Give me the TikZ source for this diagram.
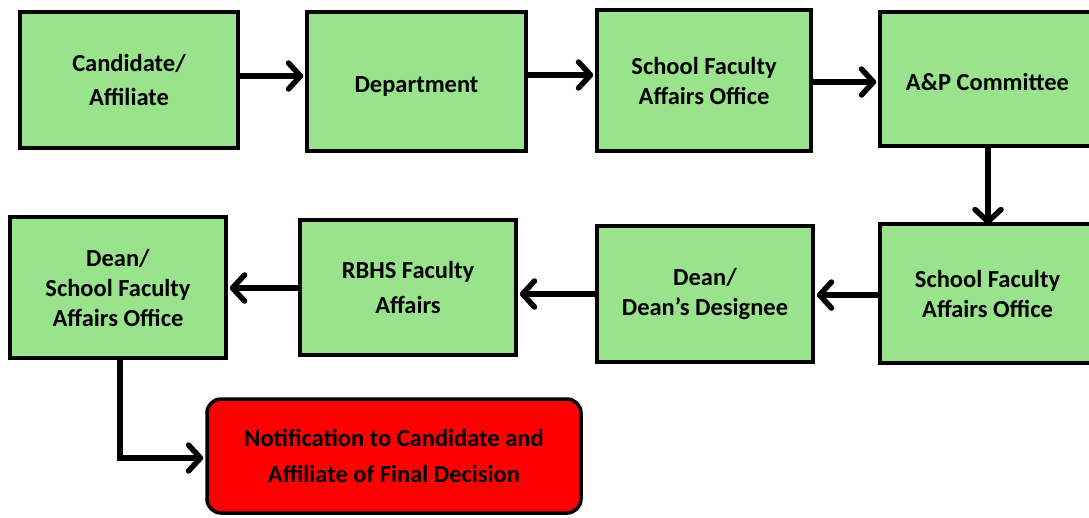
\documentclass[tikz,border=0pt]{standalone}
\usepackage{fontspec}
\setmainfont{Carlito}
\usetikzlibrary{arrows.meta}
\definecolor{boxgreen}{RGB}{153,227,140}
\definecolor{boxred}{RGB}{255,0,0}
\tikzset{
  stepbox/.style={draw=black, line width=3.5pt, fill=boxgreen, align=center,
    inner sep=0pt, font=\fontsize{24.5}{30}\selectfont\bfseries},
  finalbox/.style={stepbox, fill=boxred, rounded corners=14pt},
  arr/.style={line width=5.5pt, -{Straight Barb[length=12pt,width=26pt,round]}},
}
\begin{document}
\begin{tikzpicture}[x=1pt,y=-1pt]
\useasboundingbox (0,0) rectangle (1089,517);
\node[stepbox, minimum width=218pt, minimum height=136pt] (c1) at (129,80) {Candidate/\\[4pt]Affiliate};
\node[stepbox, minimum width=219pt, minimum height=139pt, text height=27pt, text depth=5pt] (dep) at (416.5,81.5) {Department};
\node[stepbox, minimum width=214pt, minimum height=141pt] (s1) at (704,80.5) {School Faculty\\Affairs Office};
\node[stepbox, minimum width=215pt, minimum height=134pt, text height=27pt, text depth=5pt] (ap) at (987.5,79) {A\&P Committee};
\node[stepbox, minimum width=215pt, minimum height=139pt] (s2) at (987.5,293.5) {School Faculty\\Affairs Office};
\node[stepbox, minimum width=216pt, minimum height=136pt] (dd) at (705,294) {Dean/\\Dean’s Designee};
\node[stepbox, minimum width=216pt, minimum height=135pt] (rb) at (408,287.5) {RBHS Faculty\\[5pt]Affairs};
\node[stepbox, minimum width=216pt, minimum height=141pt] (ds) at (118,287.5) {Dean/\\School Faculty\\Affairs Office};
\node[finalbox, minimum width=374pt, minimum height=114pt] (nt) at (394,456) {Notification to Candidate and\\[6pt]Affiliate of Final Decision};

\draw[arr] (c1.east |- 0,76) -- ([xshift=-2pt]dep.west |- 0,76);
\draw[arr] (dep.east |- 0,75) -- ([xshift=-2pt]s1.west |- 0,75);
\draw[arr] (s1.east |- 0,82) -- ([xshift=-2pt]ap.west |- 0,82);
\draw[arr] (ap.south -| 988,0) -- ([yshift=-2pt]s2.north -| 988,0);
\draw[arr] (s2.west |- 0,295) -- ([xshift=2pt]dd.east |- 0,295);
\draw[arr] (dd.west |- 0,294) -- ([xshift=2pt]rb.east |- 0,294);
\draw[arr] (rb.west |- 0,288) -- ([xshift=2pt]ds.east |- 0,288);
\draw[arr] (ds.south -| 120,0) |- ([xshift=-2pt]nt.west |- 0,458);
\end{tikzpicture}
\end{document}
